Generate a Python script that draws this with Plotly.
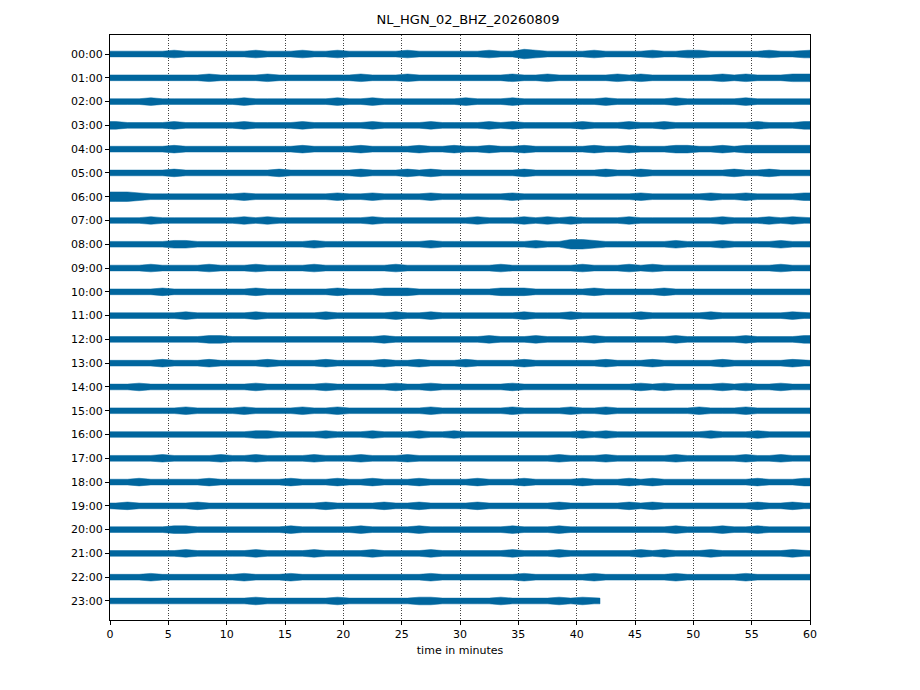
import plotly.graph_objects as go

title = "NL_HGN_02_BHZ_20260809"
hour_labels = ["%02d:00" % h for h in range(24)]
minute_ticks = list(range(0, 61, 5))

# half-width of each trace per 1-minute bin
# (digit units, 1 unit ~ 1 px); last hour stops at ~42 min
envelope = [
    "3333343333 3343334334 3333343333 3343354333 3433334334 4333334334",
    "3333333343 3334333333 3433343333 3333433433 3334343333 3343433344",
    "3334333333 3433333334 3343333333 4333433333 3343333343 3333433333",
    "4333343333 3433334333 3343333433 3343433333 4333433433 3333343334",
    "3333343333 3333334333 3433334334 3343343333 3433433344 3343444444",
    "3333343333 3333433333 3433343433 3333343333 3343343333 3334334333",
    "5543333333 3433333334 3343333433 3333433333 3333343333 3433433334",
    "3334333333 3434333333 3343333333 3433343434 3333433333 3343334343",
    "3333344333 3333333433 3333333433 3333334335 5433333343 3343333433",
    "3334333343 3343333433 3333433333 3334333333 4333434333 3333333433",
    "3333433333 3343333334 3334443333 3334443333 3433333433 3333333333",
    "3333334333 3343333343 3333433433 3333343334 3333343333 3433333343",
    "3333333344 3333333333 3334333333 3343334333 3433333343 3333433334",
    "3333433343 3334333343 3334334333 4333343333 3343334333 3343333343",
    "3343333333 3343333343 3333433433 3333433333 3333343433 3343433433",
    "3333334333 3433334334 3333333433 3333433334 3343333333 4333433333",
    "3333333333 3344333343 3343334334 3333333333 4343333333 3433343333",
    "3333433334 3343333433 3433343333 3333333343 3343333343 3333433433",
    "3343333343 3333343334 3343334333 3433343333 4333434333 3333343334",
    "3433333433 3333333343 3334334333 3433333343 3333434333 3333343343",
    "3333344333 3333343333 3433334333 3333433343 3333333343 3343343333",
    "3333334333 3343333433 3343333433 3333433343 3333343433 3433333343",
    "3334333333 3433343333 3333333433 3333343333 3433333343 3333433333",
    "3333333333 3343333334 3333334433 3334333343 43",
]
last_minute = 42.0

unit = 0.04
color = "#00669e"

fig = go.Figure()

for h, row in enumerate(envelope):
    vals = [int(c) * unit for c in row.replace(" ", "")]
    n = len(vals)
    end = 60.0 if n == 60 else last_minute
    xs = [0.0] + [i + 0.5 for i in range(n)] + [end]
    amp = [vals[0]] + vals + [vals[-1]]
    upper = [h - a for a in amp]
    lower = [h + a for a in amp]
    fig.add_trace(go.Scatter(
        x=xs + xs[::-1], y=upper + lower[::-1],
        mode="lines", fill="toself", fillcolor=color,
        line=dict(color=color, width=0.5),
        hoverinfo="skip", showlegend=False))

fig.update_layout(
    width=920, height=690,
    margin=dict(l=102, r=118, t=27, b=78),
    paper_bgcolor="white", plot_bgcolor="white",
    font=dict(family="DejaVu Sans", size=11, color="black"),
    title=dict(text=title, x=0.5, xanchor="center", y=0.983, yanchor="middle",
               font=dict(size=13)),
    showlegend=False,
)
fig.update_xaxes(
    range=[0, 60], tickvals=minute_ticks,
    ticks="outside", ticklen=4, tickcolor="black",
    showline=True, linecolor="black", linewidth=1, mirror=True,
    showgrid=True, gridcolor="#444444", griddash="1px,1.5px", gridwidth=0.7,
    zeroline=False,
    title=dict(text="time in minutes", font=dict(size=11), standoff=6),
)
fig.update_yaxes(
    range=[23.8, -0.8], tickvals=list(range(24)), ticktext=hour_labels,
    ticks="outside", ticklen=4, tickcolor="black",
    showline=True, linecolor="black", linewidth=1, mirror=True,
    showgrid=False, zeroline=False,
)

fig.write_html("out.html")
